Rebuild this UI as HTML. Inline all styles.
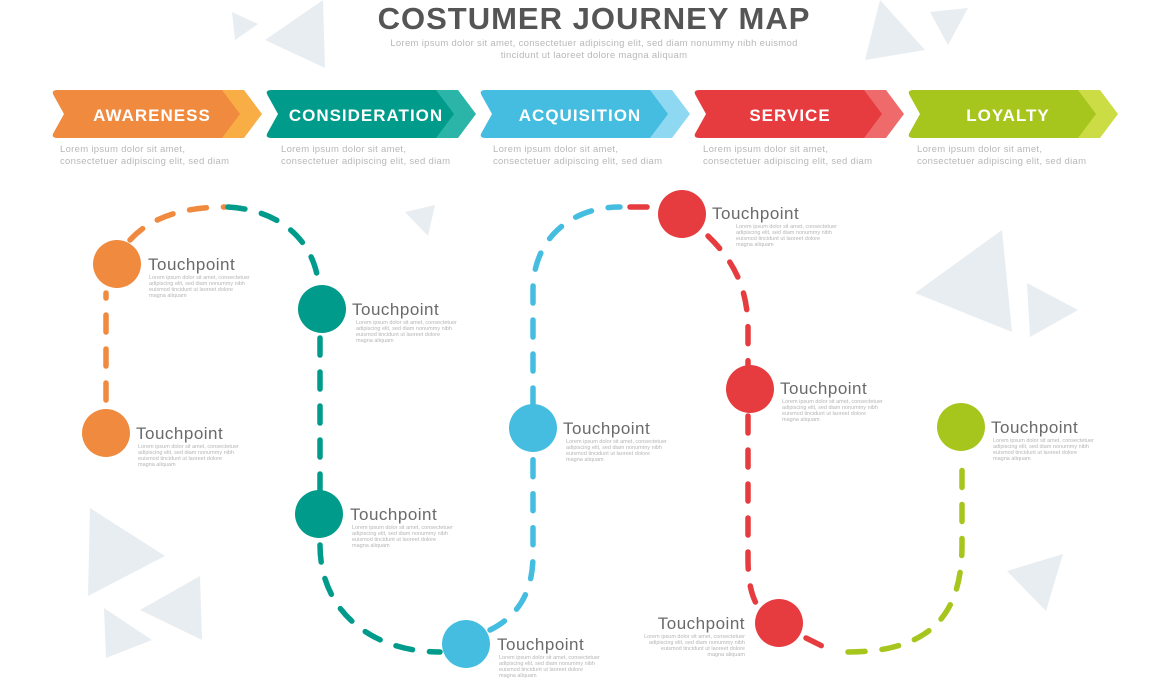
<!DOCTYPE html>
<html><head><meta charset="utf-8"><style>
html,body{margin:0;padding:0;background:#fff}
svg{display:block}
text{font-family:"Liberation Sans",sans-serif}
.tp{font-size:17px;fill:#6a6a6a;letter-spacing:.5px}
.sm{font-size:5.5px;fill:#b5b5b5}
.ds{font-size:9.5px;fill:#b8b8b8;letter-spacing:.3px}
.bn{font-size:17px;fill:#fff;letter-spacing:1px;font-weight:bold}
.d{fill:none;stroke-width:5.5;stroke-linecap:round;stroke-dasharray:17 17}
</style></head><body>
<svg width="1170" height="694" viewBox="0 0 1170 694" xmlns="http://www.w3.org/2000/svg">
<g fill="#e8edf2">
<polygon points="232,12 258,24 235,40"/>
<polygon points="323,0 265,40 325,68"/>
<polygon points="880,0 925,50 865,60"/>
<polygon points="930,12 968,8 948,45"/>
<polygon points="405,212 435,205 428,236"/>
<polygon points="1002,230 915,293 1012,332"/>
<polygon points="1027,283 1078,310 1030,337"/>
<polygon points="1007,571 1063,554 1046,611"/>
<polygon points="90,508 165,556 88,596"/>
<polygon points="140,610 200,576 202,640"/>
<polygon points="104,608 152,640 106,658"/>
</g>
<text x="594" y="29" text-anchor="middle" style="font-size:31px;font-weight:bold;fill:#555;letter-spacing:1px">COSTUMER JOURNEY MAP</text>
<text x="594" y="46" text-anchor="middle" class="ds">Lorem ipsum dolor sit amet, consectetuer adipiscing elit, sed diam nonummy nibh euismod</text>
<text x="594" y="58" text-anchor="middle" class="ds">tincidunt ut laoreet dolore magna aliquam</text>
<g>
<path d="M200,90 L244,90 L262,114 L244,138 L200,138 Z" fill="#f8ae45"/>
<path d="M58,90 L222,90 L240,114 L222,138 L58,138 Q50,138 54,132 L64,114 L54,96 Q50,90 58,90 Z" fill="#ef8a3f"/>
<text x="152" y="121" text-anchor="middle" class="bn">AWARENESS</text>
<path d="M414,90 L458,90 L476,114 L458,138 L414,138 Z" fill="#2bb5a9"/>
<path d="M272,90 L436,90 L454,114 L436,138 L272,138 Q264,138 268,132 L278,114 L268,96 Q264,90 272,90 Z" fill="#009b8a"/>
<text x="366" y="121" text-anchor="middle" class="bn">CONSIDERATION</text>
<path d="M628,90 L672,90 L690,114 L672,138 L628,138 Z" fill="#8ed8f2"/>
<path d="M486,90 L650,90 L668,114 L650,138 L486,138 Q478,138 482,132 L492,114 L482,96 Q478,90 486,90 Z" fill="#45bde0"/>
<text x="580" y="121" text-anchor="middle" class="bn">ACQUISITION</text>
<path d="M842,90 L886,90 L904,114 L886,138 L842,138 Z" fill="#ef6b6b"/>
<path d="M700,90 L864,90 L882,114 L864,138 L700,138 Q692,138 696,132 L706,114 L696,96 Q692,90 700,90 Z" fill="#e63c3f"/>
<text x="790" y="121" text-anchor="middle" class="bn">SERVICE</text>
<path d="M1056,90 L1100,90 L1118,114 L1100,138 L1056,138 Z" fill="#cbdc45"/>
<path d="M914,90 L1078,90 L1096,114 L1078,138 L914,138 Q906,138 910,132 L920,114 L910,96 Q906,90 914,90 Z" fill="#a6c61d"/>
<text x="1008" y="121" text-anchor="middle" class="bn">LOYALTY</text>
</g>
<g class="ds">
<text x="60" y="152">Lorem ipsum dolor sit amet,</text><text x="60" y="164">consectetuer adipiscing elit, sed diam</text>
<text x="281" y="152">Lorem ipsum dolor sit amet,</text><text x="281" y="164">consectetuer adipiscing elit, sed diam</text>
<text x="493" y="152">Lorem ipsum dolor sit amet,</text><text x="493" y="164">consectetuer adipiscing elit, sed diam</text>
<text x="703" y="152">Lorem ipsum dolor sit amet,</text><text x="703" y="164">consectetuer adipiscing elit, sed diam</text>
<text x="917" y="152">Lorem ipsum dolor sit amet,</text><text x="917" y="164">consectetuer adipiscing elit, sed diam</text>
</g>
<path class="d" stroke="#ef8a3f" d="M106,400 L106,293"/>
<path class="d" stroke="#ef8a3f" d="M130,240 Q160,207 225,207"/>
<path class="d" stroke="#009b8a" d="M228,207 C280,210 312,240 318,280"/>
<path class="d" stroke="#009b8a" d="M320,338 L320,490"/>
<path class="d" stroke="#009b8a" d="M320,545 C320,610 370,652 440,652"/>
<path class="d" stroke="#45bde0" d="M490,630 C520,615 533,590 533,555 L533,455"/>
<path class="d" stroke="#45bde0" d="M533,405 L533,290 C533,240 570,207 620,207"/>
<path class="d" stroke="#e63c3f" d="M630,207 L650,207"/>
<path class="d" stroke="#e63c3f" d="M708,236 C735,262 748,290 748,330 L748,365"/>
<path class="d" stroke="#e63c3f" d="M748,416 L748,560 C748,590 755,606 765,615"/>
<path class="d" stroke="#e63c3f" d="M806,638 L830,650"/>
<path class="d" stroke="#a6c61d" d="M848,652 C935,652 962,610 962,545 L962,460"/>
<circle cx="117" cy="264" r="24" fill="#ef8a3f"/>
<circle cx="106" cy="433" r="24" fill="#ef8a3f"/>
<circle cx="322" cy="309" r="24" fill="#009b8a"/>
<circle cx="319" cy="514" r="24" fill="#009b8a"/>
<circle cx="466" cy="644" r="24" fill="#45bde0"/>
<circle cx="533" cy="428" r="24" fill="#45bde0"/>
<circle cx="682" cy="214" r="24" fill="#e63c3f"/>
<circle cx="750" cy="389" r="24" fill="#e63c3f"/>
<circle cx="779" cy="623" r="24" fill="#e63c3f"/>
<circle cx="961" cy="427" r="24" fill="#a6c61d"/>
<g>
<text x="148" y="270" class="tp">Touchpoint</text>
<text x="136" y="439" class="tp">Touchpoint</text>
<text x="352" y="315" class="tp">Touchpoint</text>
<text x="350" y="520" class="tp">Touchpoint</text>
<text x="497" y="650" class="tp">Touchpoint</text>
<text x="563" y="434" class="tp">Touchpoint</text>
<text x="712" y="219" class="tp">Touchpoint</text>
<text x="780" y="394" class="tp">Touchpoint</text>
<text x="745" y="629" class="tp" text-anchor="end">Touchpoint</text>
<text x="991" y="433" class="tp">Touchpoint</text>
</g>
<g class="sm">
<text x="149" y="279">Lorem ipsum dolor sit amet, consectetuer</text><text x="149" y="285">adipiscing elit, sed diam nonummy nibh</text><text x="149" y="291">euismod tincidunt ut laoreet dolore</text><text x="149" y="297">magna aliquam</text>
<text x="138" y="448">Lorem ipsum dolor sit amet, consectetuer</text><text x="138" y="454">adipiscing elit, sed diam nonummy nibh</text><text x="138" y="460">euismod tincidunt ut laoreet dolore</text><text x="138" y="466">magna aliquam</text>
<text x="356" y="324">Lorem ipsum dolor sit amet, consectetuer</text><text x="356" y="330">adipiscing elit, sed diam nonummy nibh</text><text x="356" y="336">euismod tincidunt ut laoreet dolore</text><text x="356" y="342">magna aliquam</text>
<text x="352" y="529">Lorem ipsum dolor sit amet, consectetuer</text><text x="352" y="535">adipiscing elit, sed diam nonummy nibh</text><text x="352" y="541">euismod tincidunt ut laoreet dolore</text><text x="352" y="547">magna aliquam</text>
<text x="499" y="659">Lorem ipsum dolor sit amet, consectetuer</text><text x="499" y="665">adipiscing elit, sed diam nonummy nibh</text><text x="499" y="671">euismod tincidunt ut laoreet dolore</text><text x="499" y="677">magna aliquam</text>
<text x="566" y="443">Lorem ipsum dolor sit amet, consectetuer</text><text x="566" y="449">adipiscing elit, sed diam nonummy nibh</text><text x="566" y="455">euismod tincidunt ut laoreet dolore</text><text x="566" y="461">magna aliquam</text>
<text x="736" y="228">Lorem ipsum dolor sit amet, consectetuer</text><text x="736" y="234">adipiscing elit, sed diam nonummy nibh</text><text x="736" y="240">euismod tincidunt ut laoreet dolore</text><text x="736" y="246">magna aliquam</text>
<text x="782" y="403">Lorem ipsum dolor sit amet, consectetuer</text><text x="782" y="409">adipiscing elit, sed diam nonummy nibh</text><text x="782" y="415">euismod tincidunt ut laoreet dolore</text><text x="782" y="421">magna aliquam</text>
<g text-anchor="end"><text x="745" y="638">Lorem ipsum dolor sit amet, consectetuer</text><text x="745" y="644">adipiscing elit, sed diam nonummy nibh</text><text x="745" y="650">euismod tincidunt ut laoreet dolore</text><text x="745" y="656">magna aliquam</text></g>
<text x="993" y="442">Lorem ipsum dolor sit amet, consectetuer</text><text x="993" y="448">adipiscing elit, sed diam nonummy nibh</text><text x="993" y="454">euismod tincidunt ut laoreet dolore</text><text x="993" y="460">magna aliquam</text>
</g>
</svg>
</body></html>
